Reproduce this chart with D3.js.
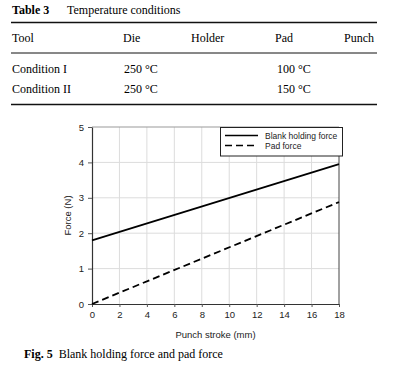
<!DOCTYPE html>
<html><head><meta charset="utf-8">
<script src="https://cdn.jsdelivr.net/npm/d3@7"></script>
<style>body{margin:0;background:#fff}</style>
</head><body>
<svg id="c" width="411" height="365"></svg>
<script>
// Table data
const tableHeaders = ["Tool", "Die", "Holder", "Pad", "Punch"];
const tableRows = [
  ["Condition I", "250 °C", "", "100 °C", ""],
  ["Condition II", "250 °C", "", "150 °C", ""]
];
// Chart data
const stroke = [0, 18];
const blankForce = [1.8, 3.95];
const padForce = [0, 2.88];
const xTicks = [0, 2, 4, 6, 8, 10, 12, 14, 16, 18];
const yTicks = [0, 1, 2, 3, 4, 5];
const seriesNames = ["Blank holding force", "Pad force"];

const svg = d3.select("#c");
const serif = "'Liberation Serif', 'Times New Roman', serif";
const sans = "'Liberation Sans', Arial, sans-serif";

// Table
svg.append("text").attr("x", 12).attr("y", 14).attr("font-family", serif).attr("font-size", 12)
  .attr("font-weight", "bold").text("Table 3");
svg.append("text").attr("x", 67).attr("y", 14).attr("font-family", serif).attr("font-size", 12)
  .text("Temperature conditions");
svg.append("line").attr("x1", 11).attr("x2", 377).attr("y1", 22.5).attr("y2", 22.5).attr("stroke", "#111").attr("stroke-width", 1.6);
svg.append("line").attr("x1", 11).attr("x2", 377).attr("y1", 53).attr("y2", 53).attr("stroke", "#111").attr("stroke-width", 1);
svg.append("line").attr("x1", 11).attr("x2", 377).attr("y1", 104.5).attr("y2", 104.5).attr("stroke", "#111").attr("stroke-width", 1.6);
const colX = [12, 123, 191, 275, 344];
const valX = [12, 124, 191, 277, 344];
svg.append("g").selectAll("text").data(tableHeaders).join("text")
  .attr("x", (d, i) => colX[i]).attr("y", 42).attr("font-family", serif).attr("font-size", 12).text(d => d);
tableRows.forEach((row, r) => {
  svg.append("g").selectAll("text").data(row).join("text")
    .attr("x", (d, i) => valX[i]).attr("y", 73 + r * 20).attr("font-family", serif).attr("font-size", 12)
    .attr("xml:space", "preserve").text(d => d);
});

// Chart
const L = 92, R = 339, T = 127, B = 304;
const x = d3.scaleLinear().domain([0, 18]).range([L, R]);
const y = d3.scaleLinear().domain([0, 5]).range([B, T]);

// gridlines
svg.append("g").selectAll("line").data(xTicks.slice(1, -1)).join("line")
  .attr("x1", d => x(d)).attr("x2", d => x(d)).attr("y1", T).attr("y2", B)
  .attr("stroke", "#dcdcdc").attr("stroke-width", 1);
svg.append("g").selectAll("line").data(yTicks.slice(1, -1)).join("line")
  .attr("x1", L).attr("x2", R).attr("y1", d => y(d)).attr("y2", d => y(d))
  .attr("stroke", "#dcdcdc").attr("stroke-width", 1);
// top border gray
svg.append("line").attr("x1", L).attr("x2", R).attr("y1", T).attr("y2", T).attr("stroke", "#999").attr("stroke-width", 1.2);
// right border dark
svg.append("line").attr("x1", R).attr("x2", R).attr("y1", T).attr("y2", B).attr("stroke", "#444").attr("stroke-width", 1);

// axes
const xAxis = svg.append("g").attr("transform", `translate(0,${B})`)
  .call(d3.axisBottom(x).tickValues(xTicks).tickFormat(d3.format("d")).tickSize(4).tickSizeOuter(0));
const yAxis = svg.append("g").attr("transform", `translate(${L},0)`)
  .call(d3.axisLeft(y).tickValues(yTicks).tickFormat(d3.format("d")).tickSize(4).tickSizeOuter(0));
[xAxis, yAxis].forEach(a => {
  a.select(".domain").attr("stroke", "#333").attr("stroke-width", 1.2);
  a.selectAll(".tick line").attr("stroke", "#555");
  a.selectAll("text").attr("font-family", sans).attr("font-size", 9.5).attr("fill", "#222");
});
xAxis.selectAll(".tick line").attr("y2", 3);
xAxis.selectAll("text").attr("dy", "0.9em").attr("y", 5);
yAxis.selectAll("text").attr("x", -8);

// axis titles
svg.append("text").attr("x", (L + R) / 2).attr("y", 338).attr("text-anchor", "middle")
  .attr("font-family", sans).attr("font-size", 9.5).attr("fill", "#222").text("Punch stroke (mm)");
svg.append("text").attr("transform", `translate(71,${(T + B) / 2}) rotate(-90)`).attr("text-anchor", "middle")
  .attr("font-family", sans).attr("font-size", 9.5).attr("fill", "#222").text("Force (N)");

// lines
const line = d3.line().x(d => x(d[0])).y(d => y(d[1]));
svg.append("path").datum(stroke.map((s, i) => [s, blankForce[i]])).attr("d", line)
  .attr("fill", "none").attr("stroke", "#000").attr("stroke-width", 1.8);
svg.append("path").datum(stroke.map((s, i) => [s, padForce[i]])).attr("d", line)
  .attr("fill", "none").attr("stroke", "#000").attr("stroke-width", 1.8).attr("stroke-dasharray", "7,4");

// legend
svg.append("rect").attr("x", 220.5).attr("y", 127.5).attr("width", 122).attr("height", 28.5)
  .attr("fill", "#fff").attr("stroke", "#222").attr("stroke-width", 1);
const legDash = [null, "7,4"];
seriesNames.forEach((n, i) => {
  const ly = 135.5 + i * 10;
  svg.append("line").attr("x1", 225).attr("x2", 258).attr("y1", ly).attr("y2", ly)
    .attr("stroke", "#000").attr("stroke-width", 1.6).attr("stroke-dasharray", legDash[i]);
  svg.append("text").attr("x", 265).attr("y", ly + 3).attr("font-family", sans).attr("font-size", 8.5)
    .attr("fill", "#222").text(n);
});

// caption
const cap = svg.append("text").attr("x", 24).attr("y", 358).attr("font-family", serif).attr("font-size", 12);
cap.append("tspan").attr("font-weight", "bold").text("Fig. 5");
cap.append("tspan").attr("dx", 6).text("Blank holding force and pad force");
</script>
</body></html>
